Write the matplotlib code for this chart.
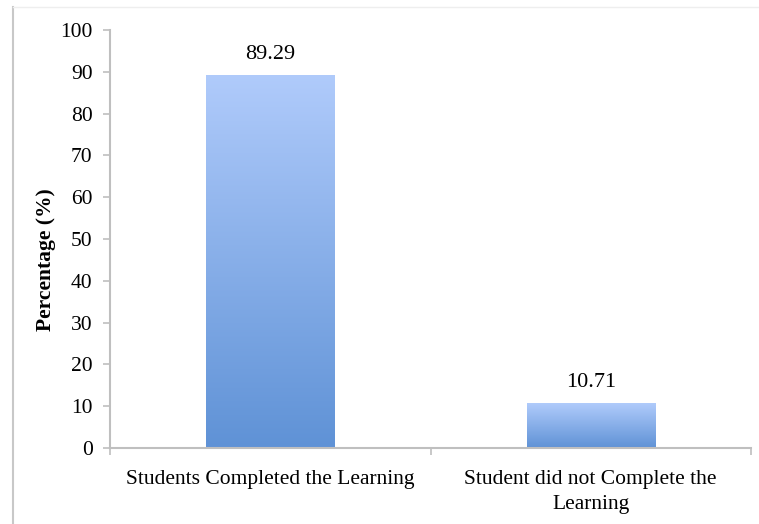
import matplotlib.pyplot as plt
import numpy as np
from matplotlib.colors import LinearSegmentedColormap
from matplotlib.lines import Line2D

# Data
categories = ["Students Completed the Learning", "Student did not Complete the\nLearning"]
percentages = [89.29, 10.71]
yticks = [0, 10, 20, 30, 40, 50, 60, 70, 80, 90, 100]

plt.rcParams['font.family'] = ['Liberation Serif', 'DejaVu Serif']

fig = plt.figure(figsize=(7.59, 5.24), dpi=100)
ax = fig.add_axes([110 / 759, 76 / 524, 641 / 759, 418 / 524])

# gradient: dark at bottom, light at top
grad_cmap = LinearSegmentedColormap.from_list("bargrad", ["#5f92d6", "#b0cbfb"])
gradient = np.linspace(0, 1, 256).reshape(-1, 1)

x = np.arange(len(categories))
bar_w = 0.4
bars = ax.bar(x, percentages, width=bar_w, color="none", edgecolor="none", zorder=2)
for b, v in zip(bars, percentages):
    x0, w = b.get_x(), b.get_width()
    im = ax.imshow(gradient, extent=[x0, x0 + w, 0, v], origin="lower", cmap=grad_cmap,
                   aspect="auto", zorder=2)
    im.set_clip_path(b)
    ax.annotate(f"{v:.2f}", (x0 + w / 2, v), xytext=(0, 8), textcoords="offset points",
                ha="center", va="bottom", fontsize=16)

ax.set_xlim(-0.5, len(categories) - 0.5)
ax.set_ylim(0, 100)
ax.set_yticks(yticks)
ax.tick_params(axis="y", labelsize=15.5, length=5, width=1.2, color="#bfbfbf", pad=7.5)

# category boundaries as ticks, labels in between
ax.set_xticks(np.arange(len(categories) + 1) - 0.5)
ax.set_xticklabels([])
ax.set_xticks(x, minor=True)
ax.set_xticklabels(categories, minor=True, fontsize=15.5, linespacing=1.45)
ax.tick_params(axis="x", which="major", length=5, width=1.2, color="#bfbfbf")
ax.tick_params(axis="x", which="minor", length=0, pad=15.5)

for s in ["top", "right"]:
    ax.spines[s].set_visible(False)
for s in ["left", "bottom"]:
    ax.spines[s].set_color("#bfbfbf")
    ax.spines[s].set_linewidth(1.5)

ax.set_ylabel("Percentage (%)", fontsize=15.5, fontweight="bold")
ax.yaxis.set_label_coords(-0.085, 0.45)

# faint page frame on the left and top
fig.add_artist(Line2D([13 / 759, 13 / 759], [0, 1 - 7 / 524], color="#c8c8c8", lw=1.5))
fig.add_artist(Line2D([13 / 759, 1], [1 - 7 / 524, 1 - 7 / 524], color="#eeeeee", lw=1))

fig.savefig("out.png", dpi=100)
